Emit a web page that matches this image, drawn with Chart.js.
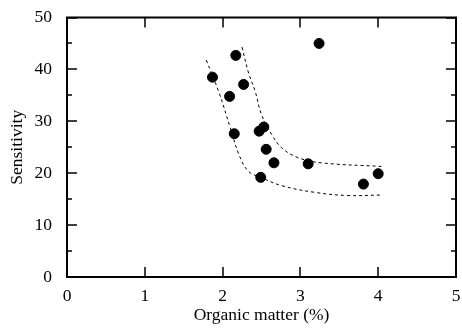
<!DOCTYPE html>
<html>
<head>
<meta charset="utf-8">
<script src="https://cdn.jsdelivr.net/npm/chart.js@4.4.0/dist/chart.umd.min.js"></script>
<style>
  html, body { margin: 0; padding: 0; background: #fff; }
  #wrap { width: 462px; height: 330px; }
</style>
</head>
<body>
<div id="wrap"><canvas id="chart" width="462" height="330"></canvas></div>
<script>
// measured points
const organicMatter = [1.87, 2.17, 2.27, 2.09, 2.15, 2.47, 2.53, 2.56, 2.66, 2.49, 3.10, 3.24, 3.81, 4.00];
const sensitivity   = [38.5, 42.7, 37.1, 34.8, 27.6, 28.1, 28.9, 24.6, 22.0, 19.2, 21.8, 45.0, 17.9, 19.9];

// upper dashed band
const upperX = [2.25, 2.33, 2.42, 2.50, 2.63, 2.76, 2.97, 3.27, 4.04];
const upperY = [44.3, 39.5, 35.7, 31.3, 27.5, 24.9, 23.0, 22.0, 21.3];

// lower dashed band
const lowerX = [1.79, 1.95, 2.10, 2.21, 2.33, 2.49, 2.76, 3.19, 3.61, 4.04];
const lowerY = [41.8, 35.7, 28.7, 23.6, 20.4, 19.2, 17.6, 16.3, 15.7, 15.8];

const xTicks = [0, 1, 2, 3, 4, 5];
const yTicks = [0, 10, 20, 30, 40, 50];

const toPts = (xs, ys) => xs.map((x, i) => ({ x: x, y: ys[i] }));

const fontFam = '"Liberation Serif", "Times New Roman", serif';
const fontSize = 17.5;

// frame and inward ticks on all four sides
const framePlugin = {
  id: 'frame',
  afterDraw(chart) {
    const ctx = chart.ctx;
    const a = chart.chartArea;
    const xs = chart.scales.x, ys = chart.scales.y;
    ctx.save();
    ctx.strokeStyle = '#000';
    ctx.lineWidth = 2;
    ctx.strokeRect(a.left, a.top, a.right - a.left, a.bottom - a.top);
    ctx.lineWidth = 1.5;
    ctx.beginPath();
    xTicks.forEach(v => {
      const px = Math.round(xs.getPixelForValue(v));
      ctx.moveTo(px, a.bottom); ctx.lineTo(px, a.bottom - 10);
      ctx.moveTo(px, a.top); ctx.lineTo(px, a.top + 10);
    });
    for (let v = 0; v <= 50; v += 5) {
      const py = Math.round(ys.getPixelForValue(v));
      const len = v % 10 === 0 ? 10 : 5;
      ctx.moveTo(a.left, py); ctx.lineTo(a.left + len, py);
      ctx.moveTo(a.right, py); ctx.lineTo(a.right - len, py);
    }
    ctx.stroke();
    ctx.restore();
  }
};

new Chart(document.getElementById('chart').getContext('2d'), {
  type: 'scatter',
  data: {
    datasets: [
      {
        data: toPts(organicMatter, sensitivity),
        backgroundColor: '#000',
        borderColor: '#000',
        pointRadius: 5,
        pointHoverRadius: 5
      },
      {
        data: toPts(upperX, upperY),
        showLine: true,
        borderColor: '#000',
        borderWidth: 1,
        borderDash: [3, 3],
        pointRadius: 0,
        tension: 0.4
      },
      {
        data: toPts(lowerX, lowerY),
        showLine: true,
        borderColor: '#000',
        borderWidth: 1,
        borderDash: [3, 3],
        pointRadius: 0,
        tension: 0.4
      }
    ]
  },
  options: {
    responsive: false,
    animation: false,
    layout: { padding: { top: 15, right: 5, left: 0, bottom: 0 } },
    plugins: {
      legend: { display: false },
      tooltip: { enabled: false }
    },
    scales: {
      x: {
        type: 'linear',
        min: 0, max: 5,
        afterBuildTicks: s => { s.ticks = xTicks.map(v => ({ value: v })); },
        afterFit: s => { s.height = 53; },
        grid: { display: false },
        border: { display: false },
        ticks: { color: '#000', font: { family: fontFam, size: fontSize }, padding: 1, maxRotation: 0 },
        title: {
          display: true,
          text: 'Organic matter (%)',
          color: '#000',
          font: { family: fontFam, size: fontSize },
          padding: { top: 0, bottom: 4 }
        }
      },
      y: {
        type: 'linear',
        min: 0, max: 50,
        afterBuildTicks: s => { s.ticks = yTicks.map(v => ({ value: v })); },
        afterFit: s => { s.width = 67; },
        grid: { display: false },
        border: { display: false },
        ticks: { color: '#000', font: { family: fontFam, size: fontSize }, padding: 7 },
        title: {
          display: true,
          text: 'Sensitivity',
          color: '#000',
          font: { family: fontFam, size: fontSize },
          padding: { top: 7, bottom: 0 }
        }
      }
    }
  },
  plugins: [framePlugin]
});
</script>
</body>
</html>
